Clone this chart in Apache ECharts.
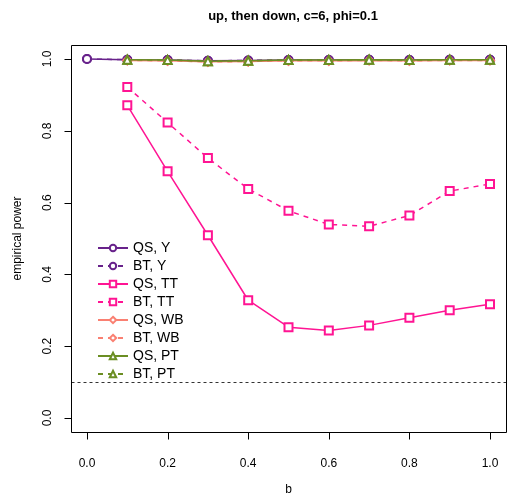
<!DOCTYPE html>
<html>
<head>
<meta charset="utf-8">
<script src="https://cdn.jsdelivr.net/npm/echarts@6/dist/echarts.min.js"></script>
<style>html,body{margin:0;padding:0;background:#fff}#c{width:511px;height:501px}</style>
</head>
<body>
<div id="c"></div>
<script>
var bValues = [0, 0.1, 0.2, 0.3, 0.4, 0.5, 0.6, 0.7, 0.8, 0.9, 1.0];
var bValuesNoZero = [0.1, 0.2, 0.3, 0.4, 0.5, 0.6, 0.7, 0.8, 0.9, 1.0];
var xTicks = [0, 0.2, 0.4, 0.6, 0.8, 1.0];
var yTicks = [0, 0.2, 0.4, 0.6, 0.8, 1.0];
var qsY  = [1.0, 0.998, 0.997, 0.995, 0.996, 0.997, 0.997, 0.998, 0.997, 0.998, 0.998];
var btY  = [1.0, 0.998, 0.997, 0.995, 0.996, 0.997, 0.997, 0.998, 0.997, 0.998, 0.998];
var qsTT = [0.871, 0.687, 0.509, 0.328, 0.253, 0.244, 0.258, 0.279, 0.300, 0.317];
var btTT = [0.922, 0.823, 0.724, 0.638, 0.577, 0.539, 0.534, 0.564, 0.632, 0.652];
var qsWB = [0.996, 0.995, 0.992, 0.993, 0.995, 0.995, 0.996, 0.995, 0.996, 0.996];
var btWB = [0.996, 0.995, 0.992, 0.993, 0.995, 0.995, 0.996, 0.995, 0.996, 0.996];
var qsPT = [0.998, 0.997, 0.994, 0.995, 0.997, 0.997, 0.998, 0.997, 0.998, 0.998];
var btPT = [0.998, 0.997, 0.994, 0.995, 0.997, 0.997, 0.998, 0.997, 0.998, 0.998];
var refLevel = 0.1;
var axisLo = 0, axisHi = 1, tickStep = 0.2, pad = 0.04;

var colPurple = '#68228B', colPink = '#FF1493', colSalmon = '#FA8072', colOlive = '#6B8E23';
function zip(xs, ys){ return ys.map(function(v,i){ return [xs[i], v]; }); }
function mk(name, xs, ys, color, symbol, dashed, z){
  return {
    name: name, type: 'line', data: zip(xs, ys), z: z, clip: false,
    symbol: symbol, symbolSize: 8, showSymbol: true,
    lineStyle: {color: color, width: 1.5, type: dashed ? [5, 5] : 'solid'},
    itemStyle: {color: color, borderColor: color, borderWidth: 1.6},
    emphasis: {disabled: true}, animation: false
  };
}
var series = [
  mk('QS, Y', bValues, qsY, colPurple, 'emptyCircle', false, 2),
  mk('BT, Y', bValues, btY, colPurple, 'emptyCircle', true, 2),
  mk('QS, TT', bValuesNoZero, qsTT, colPink, 'emptyRect', false, 3),
  mk('BT, TT', bValuesNoZero, btTT, colPink, 'emptyRect', true, 3),
  mk('QS, WB', bValuesNoZero, qsWB, colSalmon, 'emptyDiamond', false, 4),
  mk('BT, WB', bValuesNoZero, btWB, colSalmon, 'emptyDiamond', true, 4),
  mk('QS, PT', bValuesNoZero, qsPT, colOlive, 'emptyTriangle', false, 5),
  mk('BT, PT', bValuesNoZero, btPT, colOlive, 'emptyTriangle', true, 5)
];
var font = 'Liberation Sans, Arial, sans-serif';
var chart = echarts.init(document.getElementById('c'), null, {renderer: 'canvas'});
chart.setOption({
  backgroundColor: '#fff',
  animation: false,
  title: {text: 'up, then down, c=6, phi=0.1', left: 288, top: 5, textAlign: 'center',
    textStyle: {fontFamily: font, fontSize: 13, fontWeight: 'bold', color: '#000'}},
  grid: {left: 87, right: 21, top: 59, bottom: 80, show: false},
  legend: {
    orient: 'vertical', left: 92, top: 235, itemGap: 2, itemWidth: 30, itemHeight: 8,
    itemStyle: {borderWidth: 1.4},
    textStyle: {fontFamily: font, fontSize: 14, lineHeight: 16, color: '#000'},
    data: series.map(function(s){ return s.name; })
  },
  xAxis: {
    type: 'value', min: axisLo, max: axisHi, interval: tickStep, offset: 15,
    name: 'b', nameLocation: 'middle', nameGap: 51,
    nameTextStyle: {fontFamily: font, fontSize: 12, color: '#000'},
    axisLine: {show: false, onZero: false},
    axisTick: {show: false},
    axisLabel: {margin: 25, fontFamily: font, fontSize: 12, color: '#000',
      formatter: function(v){ return v.toFixed(1); }},
    splitLine: {show: false}
  },
  yAxis: {
    type: 'value', min: axisLo, max: axisHi, interval: tickStep, offset: 16,
    name: 'empirical power', nameLocation: 'middle', nameGap: 47,
    nameTextStyle: {fontFamily: font, fontSize: 12, color: '#000'},
    axisLine: {show: false, onZero: false},
    axisTick: {show: false},
    axisLabel: {rotate: 90, margin: 17, fontFamily: font, fontSize: 12, color: '#000',
      formatter: function(v){ return v.toFixed(1); }},
    splitLine: {show: false}
  },
  series: series
});
var p0 = chart.convertToPixel({gridIndex: 0}, [axisLo - pad, axisLo - pad]);
var p1 = chart.convertToPixel({gridIndex: 0}, [axisHi + pad, axisHi + pad]);
var bx0 = Math.round(p0[0]) + 0.5, bx1 = Math.round(p1[0]) + 0.5;
var by0 = Math.round(p0[1]) + 0.5, by1 = Math.round(p1[1]) + 0.5;
var tickLen = 7;
var gfx = [{
  type: 'rect', silent: true, z: 10,
  shape: {x: bx0, y: by1, width: bx1 - bx0, height: by0 - by1},
  style: {fill: null, stroke: '#000', lineWidth: 1}
}];
xTicks.forEach(function(v){
  var px = Math.round(chart.convertToPixel({gridIndex: 0}, [v, 0])[0]) + 0.5;
  gfx.push({type: 'line', silent: true, z: 100, shape: {x1: px, y1: by0, x2: px, y2: by0 + tickLen},
    style: {stroke: '#000', lineWidth: 1}});
});
yTicks.forEach(function(v){
  var py = Math.round(chart.convertToPixel({gridIndex: 0}, [0, v])[1]) + 0.5;
  gfx.push({type: 'line', silent: true, z: 100, shape: {x1: bx0 - tickLen, y1: py, x2: bx0, y2: py},
    style: {stroke: '#000', lineWidth: 1}});
});
var ry = Math.round(chart.convertToPixel({gridIndex: 0}, [0, refLevel])[1]) + 0.5;
gfx.push({type: 'line', silent: true, z: 1, shape: {x1: bx0, y1: ry, x2: bx1, y2: ry},
  style: {stroke: '#333', lineWidth: 1, lineDash: [3, 3]}});
chart.setOption({graphic: gfx});
</script>
</body>
</html>
